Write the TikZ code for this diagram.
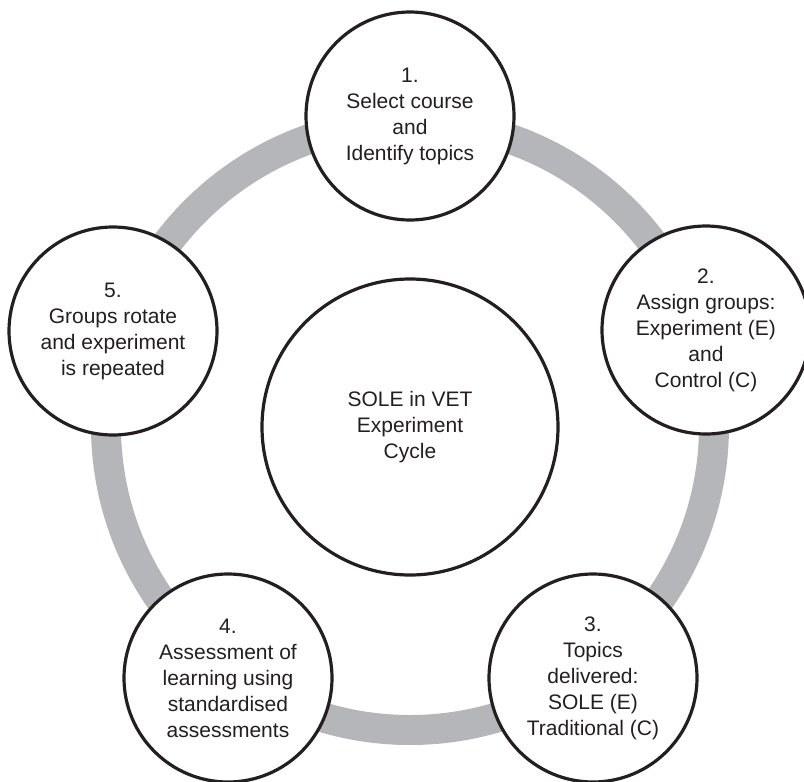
\documentclass[tikz,border=0pt]{standalone}
\usepackage{fontspec}
\setmainfont{Liberation Sans}
\definecolor{ringgray}{HTML}{B5B6BA}
\definecolor{ink}{HTML}{231F20}
\begin{document}
\begin{tikzpicture}[x=1pt,y=-1pt,
  stage/.style={circle, draw=ink, line width=3.2pt, fill=white, minimum size=208pt,
    inner sep=0pt, align=center, text=ink, font=\fontsize{21}{26}\selectfont},
  hub/.style={stage, minimum size=296pt},
  ring/.style={draw=ringgray, line width=30pt}]
\useasboundingbox (0,0) rectangle (804,782);
\coordinate (mid) at (410,426);
\draw[ring] (mid) circle (304pt);
\node[hub] (c0) at (410,427) {SOLE in VET\\Experiment\\Cycle};
\node[stage] (s1) at (410,116) {1.\\Select course\\and\\Identify topics};
\node[stage] (s2) at (706,330) {2.\\Assign groups:\\Experiment (E)\\and\\Control (C)};
\node[stage] (s3) at (593,678) {3.\\Topics\\delivered:\\SOLE (E)\\Traditional (C)};
\node[stage] (s4) at (228,678) {4.\\Assessment of\\learning using\\standardised\\assessments};
\node[stage] (s5) at (113,331) {5.\\Groups rotate\\and experiment\\is repeated};
\end{tikzpicture}
\end{document}
